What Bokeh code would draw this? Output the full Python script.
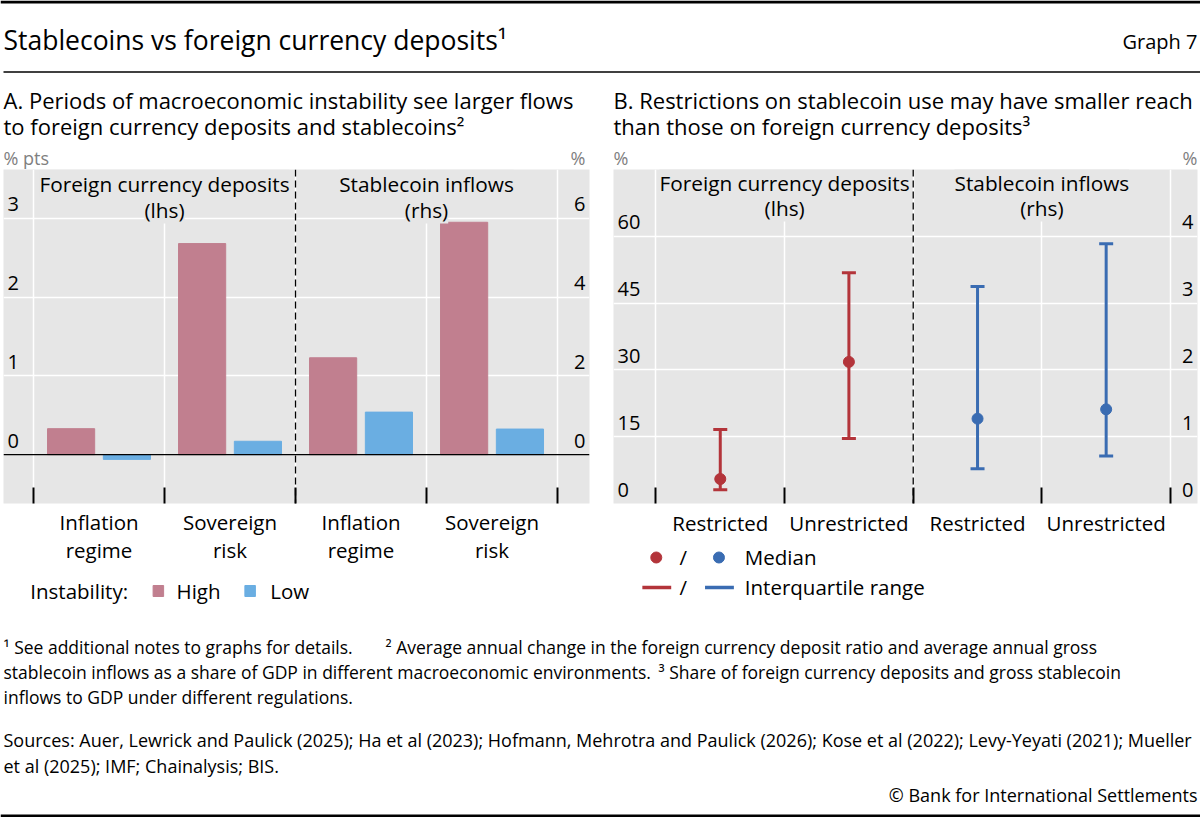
from bokeh.plotting import figure
from bokeh.models import Range1d, FixedTicker, Span, Grid
from bokeh.layouts import column, row
from bokeh.embed import file_html
from bokeh.resources import INLINE
from bokeh.core.properties import value

FONT = "Open Sans"

# ---------------- data ----------------
# Panel A
a_categories = ["Inflation\nregime", "Sovereign\nrisk", "Inflation\nregime", "Sovereign\nrisk"]
fcd_change_high = [0.33, 2.68]      # % pts (lhs)
fcd_change_low = [-0.06, 0.17]
sc_inflow_high = [2.46, 5.90]       # % (rhs)
sc_inflow_low = [1.08, 0.65]
a_lhs_ticks = [0, 1, 2, 3]
a_rhs_ticks = [0, 2, 4, 6]
a_lhs_range = (-0.62, 3.62)
a_rhs_range = (-1.24, 7.24)

# Panel B
b_categories = ["Restricted", "Unrestricted", "Restricted", "Unrestricted"]
fcd_share_median = [5.5, 31.8]      # % (lhs)
fcd_share_q1 = [3.1, 14.6]
fcd_share_q3 = [16.6, 51.8]
sc_share_median = [1.27, 1.41]      # % (rhs)
sc_share_q1 = [0.52, 0.71]
sc_share_q3 = [3.25, 3.89]
b_lhs_ticks = [0, 15, 30, 45, 60]
b_rhs_ticks = [0, 1, 2, 3, 4]
b_lhs_range = (0, 75)
b_rhs_range = (0, 5)

HIGH = "#c17f8f"
LOW = "#6aaee2"
RED = "#b3343a"
BLUE = "#3a6cb2"
BG = "#e6e6e6"
GREY_TXT = "#808080"

FRAME_H = 334
W = 1200


def canvas(w, h):
    c = figure(width=w, height=h, x_range=Range1d(0, w), y_range=Range1d(h, 0),
               output_backend="svg", toolbar_location=None, tools="", title=None,
               x_axis_location=None, y_axis_location=None, min_border=0)
    c.outline_line_color = None
    c.grid.visible = False
    c.background_fill_color = "white"
    c.border_fill_color = "white"
    return c


def txt(c, x, y, s, size="20.5px", align="left", color="black", baseline="middle"):
    c.text(x=[x], y=[y], text=[s], text_font=value(FONT), text_font_size=value(size),
           text_align=align, text_baseline=baseline, text_color=color)


def make_panel(frame_w, left_gap, right_gap, bottom, xr, lhs, rhs, categories, lhs_grid,
               standoff, line_height):
    p = figure(width=left_gap + frame_w + right_gap, height=FRAME_H + bottom, title=None,
               x_range=Range1d(*xr), y_range=Range1d(*lhs),
               output_backend="svg", toolbar_location=None, tools="",
               y_axis_location=None,
               min_border_left=left_gap, min_border_right=right_gap,
               min_border_top=0, min_border_bottom=bottom)
    p.extra_y_ranges = {"rhs": Range1d(*rhs)}
    p.background_fill_color = BG
    p.border_fill_color = "white"
    p.outline_line_color = None
    p.grid.grid_line_color = None
    n = len(categories)
    ax = p.xaxis[0]
    ax.ticker = FixedTicker(ticks=[i + 0.5 for i in range(n)], minor_ticks=list(range(n + 1)))
    ax.major_label_overrides = {i + 0.5: c for i, c in enumerate(categories)}
    ax.axis_line_color = None
    ax.major_tick_line_color = None
    ax.major_tick_in = 0
    ax.major_tick_out = 0
    ax.minor_tick_in = 16
    ax.minor_tick_out = 0
    ax.minor_tick_line_color = "black"
    ax.minor_tick_line_width = 2
    ax.major_label_standoff = standoff
    ax.major_label_text_font = FONT
    ax.major_label_text_font_size = "20.5px"
    ax.major_label_text_color = "black"
    ax.major_label_text_line_height = line_height
    p.add_layout(Grid(dimension=0, ticker=FixedTicker(ticks=list(range(n + 1))),
                      grid_line_color="white", grid_line_width=1.5))
    p.add_layout(Grid(dimension=1, ticker=FixedTicker(ticks=lhs_grid),
                      grid_line_color="white", grid_line_width=1.5))
    p.add_layout(Span(location=n / 2, dimension="height", line_color="black",
                      line_width=1.3, line_dash="7 4"))
    return p


def y_labels(p, ticks, rng, xr, frame_w, side, range_name=None):
    dy = 14 * (rng[1] - rng[0]) / FRAME_H
    dx = 4 * (xr[1] - xr[0]) / frame_w
    x = xr[0] + dx if side == "left" else xr[1] - dx
    kw = {} if range_name is None else {"y_range_name": range_name}
    p.text(x=[x] * len(ticks), y=[t + dy for t in ticks], text=[str(t) for t in ticks],
           text_align=side, text_baseline="middle", text_font=value(FONT),
           text_font_size=value("20px"), text_color="black", **kw)


def section_labels(p, xc, lines, rng, tops):
    for s, t in zip(lines, tops):
        y = rng[1] - t * (rng[1] - rng[0]) / FRAME_H
        p.text(x=[xc], y=[y], text=[s], text_align="center", text_baseline="middle",
               text_font=value(FONT), text_font_size=value("20.8px"), text_color="black",
               background_fill_color=BG, padding=0)


# ---------------- panel A ----------------
A_W = 586
A_XR = (-0.229, 4.244)
pa = make_panel(A_W, 3, 24, 72, A_XR, a_lhs_range, a_rhs_range, a_categories, [1, 2, 3],
                4, 1.0)
BAR_W = 0.36
OFF = 0.213
pa.vbar(x=[i + 0.5 - OFF for i in range(2)], top=fcd_change_high, width=BAR_W, color=HIGH)
pa.vbar(x=[i + 0.5 + OFF for i in range(2)], top=fcd_change_low, width=BAR_W, color=LOW)
pa.vbar(x=[i + 2.5 - OFF for i in range(2)], top=sc_inflow_high, width=BAR_W, color=HIGH,
        y_range_name="rhs")
pa.vbar(x=[i + 2.5 + OFF for i in range(2)], top=sc_inflow_low, width=BAR_W, color=LOW,
        y_range_name="rhs")
pa.add_layout(Span(location=0, dimension="width", line_color="black", line_width=1.3))
y_labels(pa, a_lhs_ticks, a_lhs_range, A_XR, A_W, "left")
y_labels(pa, a_rhs_ticks, a_rhs_range, A_XR, A_W, "right", "rhs")
section_labels(pa, 1, ["Foreign currency deposits", "(lhs)"], a_lhs_range, [14, 40])
section_labels(pa, 3, ["Stablecoin inflows", "(rhs)"], a_lhs_range, [14, 40])

# ---------------- panel B ----------------
B_W = 584
B_XR = (-0.330, 4.210)
pb = make_panel(B_W, 0, 3, 40, B_XR, b_lhs_range, b_rhs_range, b_categories,
                [15, 30, 45, 60], 5, 1.0)
xf = [i + 0.5 for i in range(2)]
xs = [i + 2.5 for i in range(2)]
pb.segment(x0=xf, y0=fcd_share_q1, x1=xf, y1=fcd_share_q3, line_width=3, line_color=RED)
pb.scatter(x=xf, y=fcd_share_q1, marker="dash", size=14, line_width=3, line_color=RED)
pb.scatter(x=xf, y=fcd_share_q3, marker="dash", size=14, line_width=3, line_color=RED)
pb.scatter(x=xf, y=fcd_share_median, marker="circle", size=11, color=RED)
pb.segment(x0=xs, y0=sc_share_q1, x1=xs, y1=sc_share_q3, line_width=3, line_color=BLUE,
           y_range_name="rhs")
pb.scatter(x=xs, y=sc_share_q1, marker="dash", size=14, line_width=3, line_color=BLUE,
           y_range_name="rhs")
pb.scatter(x=xs, y=sc_share_q3, marker="dash", size=14, line_width=3, line_color=BLUE,
           y_range_name="rhs")
pb.scatter(x=xs, y=sc_share_median, marker="circle", size=11, color=BLUE, y_range_name="rhs")
y_labels(pb, b_lhs_ticks, b_lhs_range, B_XR, B_W, "left")
y_labels(pb, b_rhs_ticks, b_rhs_range, B_XR, B_W, "right", "rhs")
section_labels(pb, 1, ["Foreign currency deposits", "(lhs)"], b_lhs_range, [13, 38])
section_labels(pb, 3, ["Stablecoin inflows", "(rhs)"], b_lhs_range, [13, 38])

# ---------------- legends ----------------
la = canvas(613, 35)
txt(la, 28, 15, "Instability:")
la.rect(x=[162], y=[15.5], width=11, height=11, color=HIGH)
txt(la, 181, 15, "High")
la.rect(x=[258], y=[15.5], width=11, height=11, color=LOW)
txt(la, 279, 15, "Low")

lb = canvas(587, 67)
lb.scatter(x=[43], y=[14], marker="circle", size=11, color=RED)
txt(lb, 70, 13, "/", align="center")
lb.scatter(x=[106], y=[14], marker="circle", size=11, color=BLUE)
txt(lb, 132, 13, "Median")
lb.segment(x0=[29], y0=[44], x1=[58], y1=[44], line_width=3.5, line_color=RED)
txt(lb, 70, 43, "/", align="center")
lb.segment(x0=[92], y0=[44], x1=[121], y1=[44], line_width=3.5, line_color=BLUE)
txt(lb, 132, 43, "Interquartile range")

# ---------------- header ----------------
hd = canvas(W, 169)
hd.segment(x0=[0], y0=[1.5], x1=[W], y1=[1.5], line_width=3, line_color="black")
txt(hd, 3, 39, "Stablecoins vs foreign currency deposits\u00b9", size="26.5px")
txt(hd, 1197, 41, "Graph 7", size="20px", align="right")
hd.segment(x0=[3], y0=[71.5], x1=[W], y1=[71.5], line_width=1.5, line_color="black")
txt(hd, 3, 99, "A. Periods of macroeconomic instability see larger flows", size="22px")
txt(hd, 3, 125, "to foreign currency deposits and stablecoins\u00b2", size="22px")
txt(hd, 613, 99, "B. Restrictions on stablecoin use may have smaller reach", size="22px")
txt(hd, 613, 125, "than those on foreign currency deposits\u00b3", size="22px")
txt(hd, 3, 157, "% pts", size="18px", color=GREY_TXT)
txt(hd, 585, 157, "%", size="18px", color=GREY_TXT, align="right")
txt(hd, 613, 157, "%", size="18px", color=GREY_TXT)
txt(hd, 1197, 157, "%", size="18px", color=GREY_TXT, align="right")

# ---------------- footer ----------------
ft = canvas(W, 207)
FN = "17.5px"
txt(ft, 3, 36, "\u00b9 See additional notes to graphs for details.", size=FN)
txt(ft, 385, 36, "\u00b2 Average annual change in the foreign currency deposit ratio and "
    "average annual gross", size=FN)
txt(ft, 3, 61, "stablecoin inflows as a share of GDP in different macroeconomic environments.",
    size=FN)
txt(ft, 658, 61, "\u00b3 Share of foreign currency deposits and gross stablecoin", size=FN)
txt(ft, 3, 86, "inflows to GDP under different regulations.", size=FN)
txt(ft, 3, 129, "Sources: Auer, Lewrick and Paulick (2025); Ha et al (2023); Hofmann, Mehrotra and "
    "Paulick (2026); Kose et al (2022); Levy-Yeyati (2021); Mueller", size="18px")
txt(ft, 3, 155, "et al (2025); IMF; Chainalysis; BIS.", size="18px")
txt(ft, 1197, 184, "\u00a9 Bank for International Settlements", size="18px", align="right")
ft.segment(x0=[0], y0=[205.5], x1=[W], y1=[205.5], line_width=3, line_color="black")

layout = column(hd, row(column(pa, la), column(pb, lb)), ft)
open("out.html", "w").write(file_html(layout, INLINE))
